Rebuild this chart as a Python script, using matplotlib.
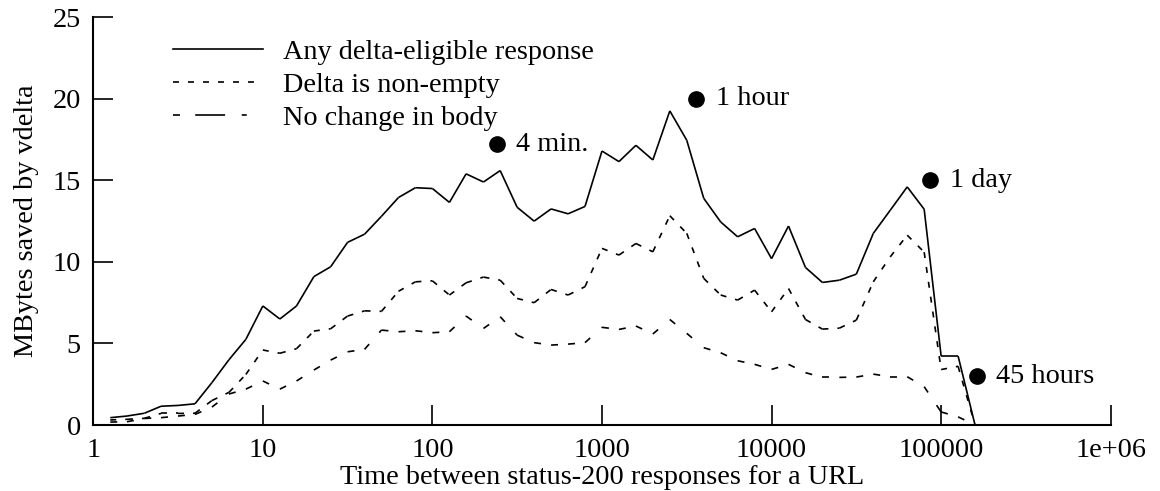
import matplotlib
matplotlib.use('agg')
import matplotlib.pyplot as plt
from matplotlib.collections import LineCollection
from matplotlib.lines import Line2D
import numpy as np

# time between status-200 responses (seconds), 0.1-decade bins
secs = [1.26, 1.58, 2.0, 2.51, 3.16, 3.98, 5.01, 6.31, 7.94, 10,
        12.6, 15.8, 20, 25.1, 31.6, 39.8, 50.1, 63.1, 79.4, 100,
        126, 158, 200, 251, 316, 398, 501, 631, 794, 1000,
        1259, 1585, 1995, 2512, 3162, 3981, 5012, 6310, 7943, 10000,
        12589, 15849, 19953, 25119, 31623, 39811, 50119, 63096, 79433, 100000,
        125893, 158489]

any_eligible = [0.45, 0.55, 0.72, 1.15, 1.2, 1.3, 2.6, 4.0, 5.25, 7.3,
                6.5, 7.3, 9.1, 9.7, 11.2, 11.7, 12.8, 13.95, 14.55, 14.5,
                13.65, 15.4, 14.9, 15.6, 13.35, 12.5, 13.25, 12.95, 13.4, 16.8,
                16.15, 17.15, 16.25, 19.26, 17.46, 13.9, 12.45, 11.54, 12.05, 10.2,
                12.2, 9.66, 8.74, 8.88, 9.25, 11.75, 13.17, 14.6, 13.23, 4.23,
                4.23, 0.0]

delta_nonempty = [0.31, 0.35, 0.41, 0.71, 0.71, 0.72, 1.5, 2.0, 3.1, 4.6,
                  4.4, 4.68, 5.76, 5.9, 6.68, 7.0, 6.97, 8.2, 8.78, 8.84,
                  7.97, 8.72, 9.07, 8.88, 7.76, 7.5, 8.31, 7.97, 8.48, 10.83,
                  10.42, 11.13, 10.62, 12.83, 11.75, 8.99, 7.97, 7.66, 8.27, 6.94,
                  8.37, 6.47, 5.88, 5.94, 6.43, 8.78, 10.31, 11.64, 10.6, 3.4,
                  3.6, 0.0]

no_change = [0.18, 0.2, 0.4, 0.45, 0.55, 0.65, 1.1, 1.9, 2.2, 2.7,
             2.2, 2.7, 3.37, 3.98, 4.49, 4.64, 5.82, 5.72, 5.78, 5.66,
             5.72, 6.68, 5.92, 6.64, 5.51, 5.05, 4.9, 4.96, 5.05, 5.99,
             5.86, 6.07, 5.58, 6.47, 5.62, 4.74, 4.43, 3.94, 3.72, 3.41,
             3.72, 3.21, 2.92, 2.92, 2.94, 3.12, 2.96, 2.96, 2.35, 0.8,
             0.5, 0.0]

# marked intervals
mark_secs = [240, 3600, 86400, 162000]
mark_vals = [17.2, 20, 15, 3]
mark_text = ['4 min.', '1 hour', '1 day', '45 hours']

xticks = [1, 10, 100, 1000, 10000, 100000, 1000000]
xtick_labels = ['1', '10', '100', '1000', '10000', '100000', '1e+06']
yticks = [0, 5, 10, 15, 20, 25]

plt.rcParams['font.family'] = ['Liberation Serif', 'DejaVu Serif']
plt.rcParams['font.size'] = 20.3
plt.rcParams['lines.scale_dashes'] = False

fig = plt.figure(figsize=(11.6, 4.91), dpi=100)
ax = fig.add_axes([0.0804, 0.1344, 0.8771, 0.8304])
ax.set_xscale('log')


def segs(xs, ys):
    # one path per segment so the dash pattern restarts at every point
    pts = np.column_stack([xs, ys])
    return np.stack([pts[:-1], pts[1:]], axis=1)


styles = [
    (any_eligible, 'solid', 'Any delta-eligible response'),
    (delta_nonempty, (0, (4.3, 6.5)), 'Delta is non-empty'),
    (no_change, (0, (5, 11, 21.5, 12, 3.6, 30)), 'No change in body'),
]
handles = []
for vals, ls, label in styles:
    lc = LineCollection(segs(secs, vals), colors='black', linewidths=1.2,
                        linestyles=ls, capstyle='butt')
    ax.add_collection(lc)
    handles.append(Line2D([], [], color='black', lw=1.2, ls=ls,
                          dash_capstyle='butt', label=label))

ax.plot(mark_secs, mark_vals, 'o', color='black', markersize=11)
for sx, sv, txt in zip(mark_secs, mark_vals, mark_text):
    ax.annotate(txt, (sx, sv), xytext=(14, 0), textcoords='offset points',
                va='center', ha='left')

ax.set_xlim(1, 1000000)
ax.set_ylim(0, 25)
ax.set_xticks(xticks, xtick_labels)
ax.set_yticks(yticks)
ax.minorticks_off()
ax.tick_params(direction='in', length=14.5, width=1.2, pad=9)
for side in ['top', 'right']:
    ax.spines[side].set_visible(False)
for side in ['left', 'bottom']:
    ax.spines[side].set_linewidth(1.5)

ax.set_xlabel('Time between status-200 responses for a URL', labelpad=2)
ax.set_ylabel('MBytes saved by vdelta', labelpad=10)

ax.legend(handles=handles, loc='upper left', bbox_to_anchor=(0.0786, 0.946),
          frameon=False, handlelength=3.19, handletextpad=0.71,
          labelspacing=0.26, borderpad=0, borderaxespad=0)

fig.savefig('out.png', dpi=100)
